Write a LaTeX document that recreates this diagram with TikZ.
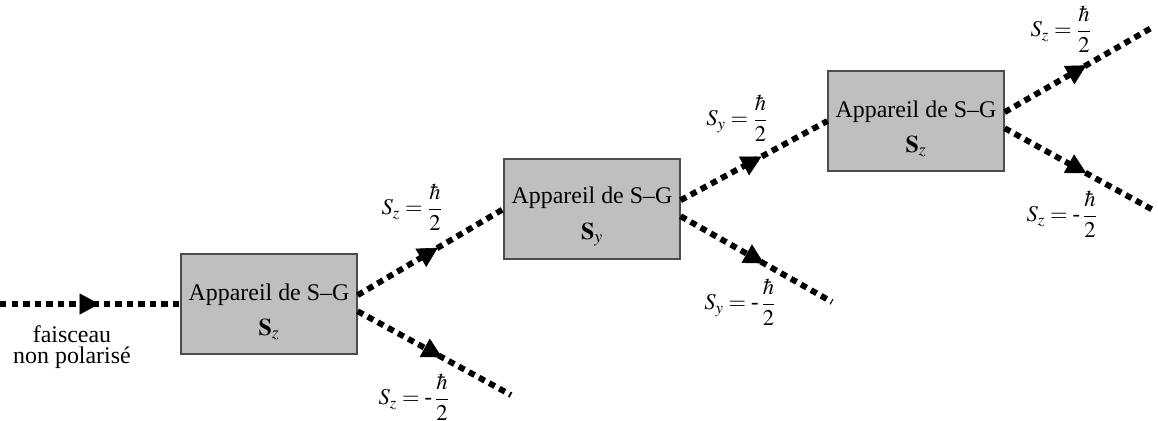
\documentclass[tikz,border=0pt]{standalone}
\usepackage{amsmath}
\usepackage{mathptmx}
\usepackage{fontspec}
\setmainfont{Liberation Serif}
\usetikzlibrary{arrows.meta,positioning,decorations.markings}

\begin{document}
\begin{tikzpicture}[x=0.025cm,y=-0.025cm,font=\fontsize{17}{20}\selectfont]
\tikzset{sgbox/.style={draw=black!70,line width=0.8pt,fill=gray!50,minimum width=4.4cm,minimum height=2.5cm,align=center,inner sep=0pt},
         beam/.style={line width=4.2pt,dash pattern=on 4.6pt off 3.6pt,postaction={decorate},
           decoration={markings,mark=at position 0.55 with {\arrow{Triangle[length=14pt,width=15pt,line width=0.4pt]}}}},
         spin/.style={inner sep=1pt,font=\fontsize{16}{19}\selectfont}}
\useasboundingbox (0,0) rectangle (1158,421);
\node[sgbox] (sgz) at (269,304) {\rule{0pt}{23pt}Appareil de S--G\\[5pt]$\mathbf{S}_z$};
\node[sgbox] (sgy) at (592,209) {\rule{0pt}{23pt}Appareil de S--G\\[5pt]$\mathbf{S}_y$};
\node[sgbox] (sgzz) at (916,121) {\rule{0pt}{23pt}Appareil de S--G\\[5pt]$\mathbf{S}_z$};
\coordinate (src) at (0,304);
\coordinate (zdown) at (511,395);
\coordinate (ydown) at (832,302);
\coordinate (zzup) at (1153,27);
\coordinate (zzdown) at (1153,210);
\draw[beam] (src) -- (sgz.west);
\draw[beam] ([yshift=0.22cm]sgz.east) -- (sgy.west);
\draw[beam] ([yshift=-0.18cm]sgz.east) -- (zdown);
\draw[beam] ([yshift=0.22cm]sgy.east) -- (sgzz.west);
\draw[beam] ([yshift=-0.18cm]sgy.east) -- (ydown);
\draw[beam] ([yshift=0.22cm]sgzz.east) -- (zzup);
\draw[beam] ([yshift=-0.18cm]sgzz.east) -- (zzdown);
\node[align=center,font=\fontsize{17}{15}\selectfont] (unpol) at (72,347) {faisceau\\non polarisé};
\node[spin] (zplus) at (412,207) {$S_z = \dfrac{\hbar}{2}$};
\node[spin] (zminus) at (414,397) {$S_z = \text{-}\,\dfrac{\hbar}{2}$};
\node[spin] (yplus) at (737,118) {$S_y = \dfrac{\hbar}{2}$};
\node[spin] (yminus) at (740,302) {$S_y = \text{-}\,\dfrac{\hbar}{2}$};
\node[spin] (zzplus) at (1061,29) {$S_z = \dfrac{\hbar}{2}$};
\node[spin] (zzminus) at (1062,214) {$S_z = \text{-}\,\dfrac{\hbar}{2}$};
\end{tikzpicture}
\end{document}
